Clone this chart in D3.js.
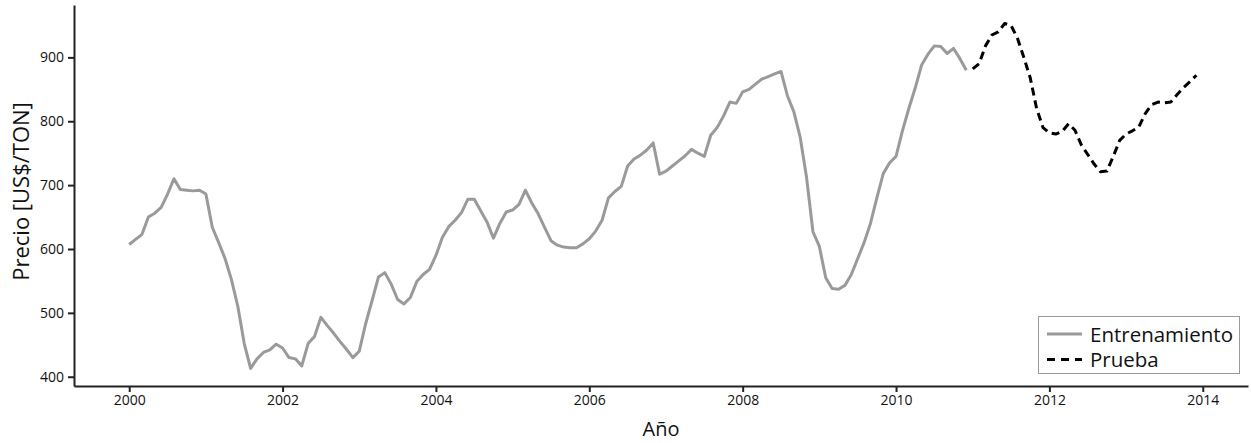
<!DOCTYPE html>
<html>
<head>
<meta charset="utf-8">
<script src="https://cdn.jsdelivr.net/npm/d3@7"></script>
<style>
  body { margin: 0; background: #fff; }
  text { font-family: "Open Sans", sans-serif; fill: #111; }
</style>
</head>
<body>
<div id="chart"></div>
<script>
// monthly prices, training: Jan 2000 - Dec 2010
var trainStart = 2000;
var trainValues = [
  607, 615, 623, 650, 656, 665, 686, 710, 693, 692, 691, 692,
  686, 634, 610, 585, 552, 510, 452, 413, 428, 438, 442, 451,
  445, 430, 428, 417, 452, 463, 493, 480, 468, 455, 443, 430,
  440, 483, 519, 556, 563, 545, 521, 514, 524, 549, 560, 568,
  590, 618, 635, 645, 657, 678, 678, 660, 642, 617, 640, 658,
  661, 670, 692, 672, 655, 634, 613, 606, 603, 602, 602, 608,
  616, 628, 645, 680, 690, 698, 730, 741, 747, 755, 766, 717,
  722, 730, 738, 746, 756, 750, 745, 778, 790, 808, 830, 828,
  846, 850, 858, 866, 870, 874, 878, 840, 815, 775, 712, 627,
  604, 555, 538, 537, 543, 560, 585, 610, 640, 680, 718, 735,
  745, 785, 820, 852, 888, 905, 918, 917, 906, 914, 898, 880
];
// monthly prices, test: Jan 2011 - Dec 2013
var testStart = 2011;
var testValues = [
  882, 890, 918, 935, 940, 953, 950, 930, 900, 868, 820, 790,
  782, 780, 784, 796, 786, 763, 748, 733, 721, 722, 745, 770,
  780, 785, 791, 812, 826, 830, 829, 830, 842, 853, 862, 872
];
var xTicks = [2000, 2002, 2004, 2006, 2008, 2010, 2012, 2014];
var yTicks = [400, 500, 600, 700, 800, 900];
var legendNames = ["Entrenamiento", "Prueba"];

var width = 1251, height = 443;

var svg = d3.select("#chart")
  .append("svg")
    .attr("width", width)
    .attr("height", height);

var x = d3.scaleLinear()
  .domain([1999.28, 2014.59])
  .range([74, 1248]);

var y = d3.scaleLinear()
  .domain([385.5, 982])
  .range([386, 5]);

function toPoints(start, vals) {
  return vals.map(function (v, i) { return {t: start + i / 12, v: v}; });
}
var train = toPoints(trainStart, trainValues);
var test = toPoints(testStart, testValues);

var line = d3.line()
  .x(function (d) { return x(d.t); })
  .y(function (d) { return y(d.v); });

// axes
var xAxis = svg.append("g")
  .attr("transform", "translate(0," + 386 + ")")
  .call(d3.axisBottom(x).tickValues(xTicks).tickFormat(d3.format("d"))
    .tickSize(6).tickSizeOuter(0).tickPadding(3));

var yAxis = svg.append("g")
  .attr("transform", "translate(" + 74 + ",0)")
  .call(d3.axisLeft(y).tickValues(yTicks).tickSize(6).tickSizeOuter(0).tickPadding(4));

[xAxis, yAxis].forEach(function (a) {
  a.select(".domain").attr("stroke", "#222").attr("stroke-width", 2);
  a.selectAll(".tick line").attr("stroke", "#222").attr("stroke-width", 2);
  a.selectAll(".tick text").style("font-size", "14px").attr("fill", "#000");
});

// lines
svg.append("path")
  .datum(train)
  .attr("d", line)
  .attr("fill", "none")
  .attr("stroke", "#9a9a9a")
  .attr("stroke-width", 3)
  .attr("stroke-linejoin", "round");

svg.append("path")
  .datum(test)
  .attr("d", line)
  .attr("fill", "none")
  .attr("stroke", "#000")
  .attr("stroke-width", 3)
  .attr("stroke-dasharray", "8,5")
  .attr("stroke-linejoin", "round");

// titles
svg.append("text")
  .attr("x", 661)
  .attr("y", 436)
  .attr("text-anchor", "middle")
  .style("font-size", "20px")
  .text("Año");

svg.append("text")
  .attr("transform", "translate(29,191.5) rotate(-90)")
  .attr("text-anchor", "middle")
  .style("font-size", "22px")
  .text("Precio [US$/TON]");

// legend
var lg = svg.append("g");
lg.append("rect")
  .attr("x", 1038.5).attr("y", 316.5)
  .attr("width", 201).attr("height", 57)
  .attr("fill", "#fff")
  .attr("stroke", "#999")
  .attr("stroke-width", 1);

legendNames.forEach(function (name, i) {
  var cy = 334 + i * 25.5;
  lg.append("line")
    .attr("x1", 1047).attr("x2", 1082)
    .attr("y1", cy).attr("y2", cy)
    .attr("stroke", i === 0 ? "#9a9a9a" : "#000")
    .attr("stroke-width", 3)
    .attr("stroke-dasharray", i === 0 ? null : "8,6");
  lg.append("text")
    .attr("x", 1090).attr("y", cy + 7.5)
    .style("font-size", "20.5px")
    .text(name);
});
</script>
</body>
</html>
